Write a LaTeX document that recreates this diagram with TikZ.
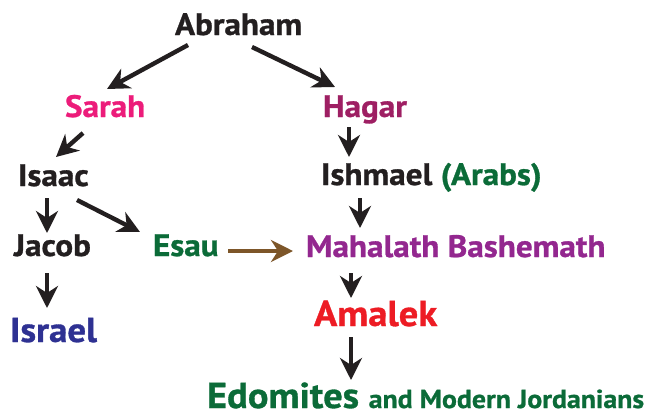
\documentclass[tikz,border=0pt]{standalone}
\usepackage{fontspec}
\setmainfont{PT Sans}[BoldFeatures={FakeStretch=1.07,FakeBold=0.9}]
\usetikzlibrary{arrows.meta}
\definecolor{ink}{HTML}{231F20}
\definecolor{pinkS}{HTML}{EC1C7A}
\definecolor{plumH}{HTML}{9E1F63}
\definecolor{greenE}{HTML}{0B6B38}
\definecolor{purpleM}{HTML}{93278F}
\definecolor{blueI}{HTML}{2E3192}
\definecolor{redA}{HTML}{ED1C24}
\definecolor{brownB}{HTML}{7D5629}
\tikzset{
  lbl/.style={anchor=base west, inner sep=0pt, outer sep=0pt, font=\bfseries\fontsize{31}{33}\selectfont, text=ink},
  arr/.style={draw=ink, line width=4.4pt, -{Stealth[length=22pt,width=22pt,inset=7pt]}},
  brownarr/.style={arr, draw=brownB}
}
\begin{document}
\begin{tikzpicture}[x=1pt,y=-1pt]
\useasboundingbox (0,0) rectangle (652,416);
\node[lbl] (abr) at (175,35) {Abraham};
\node[lbl, text=pinkS] (sarah) at (65,117) {Sarah};
\node[lbl, text=plumH] (hagar) at (323,117) {Hagar};
\node[lbl] (isaac) at (18,186) {Isaac};
\node[lbl] (ishmael) at (321,185) {Ishmael \textcolor{greenE}{(Arabs)}};
\node[lbl] (jacob) at (14,256) {Jacob};
\node[lbl, text=greenE] (esau) at (153,256) {Esau};
\node[lbl, text=purpleM] (mahalath) at (306,257) {Mahalath Bashemath};
\node[lbl, text=blueI, font=\bfseries\fontsize{34.5}{37}\selectfont] (israel) at (10,342) {Israel};
\node[lbl, text=redA, font=\bfseries\fontsize{36}{38}\selectfont] (amalek) at (314,326) {Amalek};
\node[lbl, text=greenE, font=\bfseries\fontsize{36}{38}\selectfont] (edomites) at (207,408) {Edomites {\fontsize{26}{28}\selectfont and Modern Jordanians}};
\draw[arr] ([shift={(13,10)}]abr.base west) -- ([shift={(42,-28)}]sarah.base west);
\draw[arr] ([shift={(77,12)}]abr.base west) -- ([shift={(12,-30)}]hagar.base west);
\draw[arr] ([shift={(18,16)}]sarah.base west) -- ([shift={(38,-29)}]isaac.base west);
\draw[arr] ([shift={(26,10)}]hagar.base west) -- ([shift={(28,-28)}]ishmael.base west);
\draw[arr] ([shift={(29,12)}]isaac.base west) -- ([shift={(33,-23)}]jacob.base west);
\draw[arr] ([shift={(59,14)}]isaac.base west) -- ([shift={(-13,-24)}]esau.base west);
\draw[arr] ([shift={(39,13)}]ishmael.base west) -- ([shift={(54,-29)}]mahalath.base west);
\draw[brownarr] ([shift={(75,-5)}]esau.base west) -- ([shift={(-13,-6)}]mahalath.base west);
\draw[arr] ([shift={(45,16)}]mahalath.base west) -- ([shift={(37,-28)}]amalek.base west);
\draw[arr] ([shift={(33,17)}]jacob.base west) -- ([shift={(37,-34)}]israel.base west);
\draw[arr] ([shift={(37,11)}]amalek.base west) -- ([shift={(144,-28)}]edomites.base west);
\end{tikzpicture}
\end{document}
